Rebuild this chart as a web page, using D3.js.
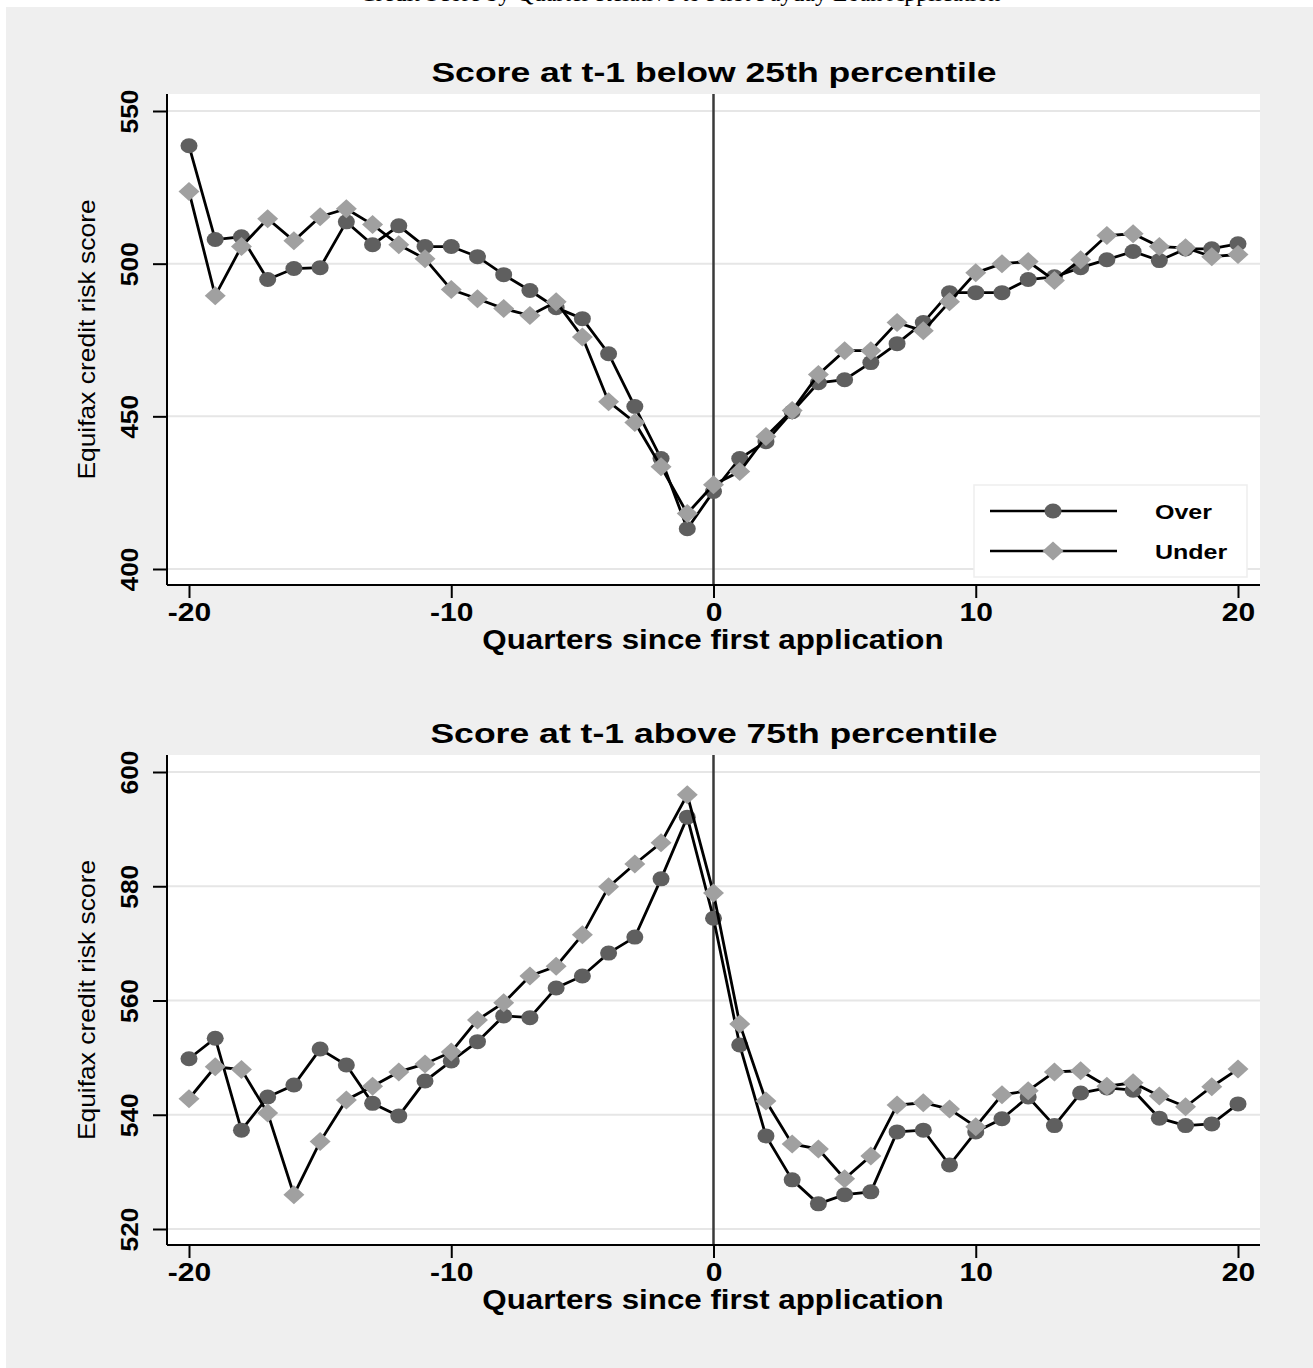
<!DOCTYPE html>
<html>
<head>
<meta charset="utf-8">
<script src="https://cdn.jsdelivr.net/npm/d3@7"></script>
<style>
  body { margin: 0; background: #ffffff; }
  svg { display: block; }
</style>
</head>
<body>
<div id="chart"></div>
<script>
// data
const quarters = d3.range(-20, 21);

const overLow = [538.6, 507.9, 508.8, 494.8, 498.4, 498.7, 513.7, 506.2, 512.4, 505.6,
  505.6, 502.3, 496.4, 491.2, 485.6, 482.0, 470.5, 453.2, 436.2, 413.2,
  425.4, 436.2, 441.7, 451.5, 461.0, 462.0, 467.6, 473.8, 480.7, 490.5,
  490.5, 490.5, 494.8, 495.7, 498.7, 501.3, 504.0, 501.0, 504.8, 504.9, 506.5];
const underLow = [523.6, 489.5, 505.6, 514.7, 507.5, 515.4, 518.0, 512.8, 506.2, 501.6,
  491.5, 488.5, 485.3, 483.0, 487.5, 476.0, 454.8, 448.0, 433.5, 418.2,
  427.6, 431.9, 443.4, 451.9, 463.7, 471.5, 471.5, 480.7, 478.0, 487.5,
  497.0, 500.0, 500.7, 494.5, 501.3, 509.2, 509.8, 505.6, 505.2, 502.3, 503.0];

const overHigh = [549.8, 553.4, 537.3, 543.1, 545.2, 551.5, 548.7, 542.0, 539.8, 545.9,
  549.4, 552.8, 557.3, 557.0, 562.2, 564.3, 568.3, 571.1, 581.3, 592.1,
  574.4, 552.2, 536.3, 528.6, 524.4, 526.0, 526.5, 537.0, 537.3, 531.2,
  537.0, 539.3, 543.1, 538.1, 543.8, 544.7, 544.3, 539.4, 538.1, 538.4, 541.9];
const underHigh = [542.8, 548.4, 547.9, 540.3, 526.0, 535.3, 542.6, 545.0, 547.5, 548.9,
  551.0, 556.6, 559.6, 564.3, 566.0, 571.5, 579.9, 583.9, 587.6, 596.0,
  578.8, 555.9, 542.4, 534.9, 534.0, 528.8, 532.8, 541.7, 542.1, 541.0,
  537.9, 543.5, 544.2, 547.5, 547.7, 545.0, 545.6, 543.3, 541.4, 544.9, 548.0];

const xTicks = [-20, -10, 0, 10, 20];
const yTicksLow = [400, 450, 500, 550];
const yTicksHigh = [520, 540, 560, 580, 600];
const seriesNames = ["Over", "Under"];

const W = 1313, H = 1368;
const svg = d3.select("#chart").append("svg")
    .attr("width", W)
    .attr("height", H);

// the stata export looks horizontally stretched, so widen the texts
const stretch = (sel, k) => {
  sel.each(function() {
    const len = this.getComputedTextLength();
    d3.select(this).attr("textLength", len * k).attr("lengthAdjust", "spacingAndGlyphs");
  });
};

// caption of the page, cut off at the top edge
svg.append("text")
    .attr("x", 680)
    .attr("y", 1)
    .attr("text-anchor", "middle")
    .style("font-family", "'Liberation Serif', 'DejaVu Serif', serif")
    .style("font-size", "24px")
    .text("Credit Score by Quarter Relative to First Payday Loan Application");

// graph region
svg.append("rect")
    .attr("x", 6).attr("y", 7)
    .attr("width", W - 6).attr("height", H - 7)
    .attr("fill", "#efefef");

const font = "'Liberation Sans', Arial, sans-serif";
const overColor = "#5f5f5f", underColor = "#a0a0a0";

function diamond(cx, cy) {
  const a = 10.5, b = 9.5;
  return `M${cx},${cy - b}L${cx + a},${cy}L${cx},${cy + b}L${cx - a},${cy}Z`;
}

function panel(opt) {
  const left = 167, right = 1260;
  const x = d3.scaleLinear().domain([-20, 20]).range([189, 1238]);
  const y = d3.scaleLinear().domain(opt.yDomain).range(opt.yRange);

  const g = svg.append("g");

  // plot area
  g.append("rect")
      .attr("x", left).attr("y", opt.top)
      .attr("width", right - left).attr("height", opt.bottom - opt.top)
      .attr("fill", "#ffffff");

  // grid lines
  g.selectAll(".grid")
      .data(opt.yTicks)
      .enter().append("line")
      .attr("x1", left).attr("x2", right)
      .attr("y1", d => y(d)).attr("y2", d => y(d))
      .attr("stroke", "#e6e6e6")
      .attr("stroke-width", 2);

  // line at quarter 0
  g.append("line")
      .attr("x1", x(0)).attr("x2", x(0))
      .attr("y1", opt.top).attr("y2", opt.bottom)
      .attr("stroke", "#3a3a3a")
      .attr("stroke-width", 2.5);

  // title
  g.append("text")
      .attr("x", 714).attr("y", opt.top - 12)
      .attr("text-anchor", "middle")
      .style("font-family", font)
      .style("font-weight", "bold")
      .style("font-size", "28px")
      .text(opt.title)
      .call(stretch, 1.27);

  // y axis
  const yAxis = g.append("g")
      .attr("transform", "translate(" + left + ",0)")
      .call(d3.axisLeft(y).tickValues(opt.yTicks).tickFormat(d => String(d))
        .tickSize(14).tickSizeOuter(0).tickPadding(0));
  yAxis.select(".domain").remove();
  yAxis.append("line")
      .attr("x1", 0).attr("x2", 0)
      .attr("y1", opt.top).attr("y2", opt.bottom)
      .attr("stroke", "#000").attr("stroke-width", 2);
  yAxis.selectAll(".tick line").attr("stroke", "#000").attr("stroke-width", 2);
  yAxis.selectAll(".tick text")
      .attr("x", 0).attr("dy", 0)
      .attr("transform", "translate(-29,0) rotate(-90)")
      .attr("text-anchor", "middle")
      .style("font-family", font)
      .style("font-weight", "bold")
      .style("font-size", "24px")
      .attr("fill", "#000")
      .call(stretch, 1.1);

  // x axis
  const xAxis = g.append("g")
      .attr("transform", "translate(0," + opt.bottom + ")")
      .call(d3.axisBottom(x).tickValues(xTicks).tickFormat(d => String(d))
        .tickSize(13).tickSizeOuter(0).tickPadding(4));
  xAxis.select(".domain").remove();
  xAxis.append("line")
      .attr("x1", left).attr("x2", right)
      .attr("y1", 0).attr("y2", 0)
      .attr("stroke", "#000").attr("stroke-width", 2);
  xAxis.selectAll(".tick line").attr("stroke", "#000").attr("stroke-width", 2);
  xAxis.selectAll(".tick text")
      .attr("dy", "0.75em")
      .style("font-family", font)
      .style("font-weight", "bold")
      .style("font-size", "25px")
      .attr("fill", "#000")
      .call(stretch, 1.2);

  // axis titles
  g.append("text")
      .attr("x", 713).attr("y", opt.bottom + 64)
      .attr("text-anchor", "middle")
      .style("font-family", font)
      .style("font-weight", "bold")
      .style("font-size", "27px")
      .text("Quarters since first application")
      .call(stretch, 1.16);

  g.append("text")
      .attr("transform", "translate(95," + ((opt.top + opt.bottom) / 2) + ") rotate(-90)")
      .attr("text-anchor", "middle")
      .style("font-family", font)
      .style("font-size", "24px")
      .text("Equifax credit risk score")
      .call(stretch, 1.1);

  // series
  const line = d3.line().x((d, i) => x(quarters[i])).y(d => y(d));

  g.append("path").datum(opt.over)
      .attr("d", line).attr("fill", "none")
      .attr("stroke", "#000").attr("stroke-width", 2.8);
  g.selectAll(".over")
      .data(opt.over)
      .enter().append("ellipse")
      .attr("cx", (d, i) => x(quarters[i]))
      .attr("cy", d => y(d))
      .attr("rx", 8.5).attr("ry", 7.5)
      .attr("fill", overColor);

  g.append("path").datum(opt.under)
      .attr("d", line).attr("fill", "none")
      .attr("stroke", "#000").attr("stroke-width", 2.8);
  g.selectAll(".under")
      .data(opt.under)
      .enter().append("path")
      .attr("d", (d, i) => diamond(x(quarters[i]), y(d)))
      .attr("fill", underColor);

  return g;
}

const topPanel = panel({
  title: "Score at t-1 below 25th percentile",
  top: 94, bottom: 585,
  yDomain: [400, 550], yRange: [569, 111],
  yTicks: yTicksLow,
  over: overLow, under: underLow
});

panel({
  title: "Score at t-1 above 75th percentile",
  top: 755, bottom: 1245,
  yDomain: [520, 600], yRange: [1229, 772],
  yTicks: yTicksHigh,
  over: overHigh, under: underHigh
});

// legend
const leg = topPanel.append("g");
leg.append("rect")
    .attr("x", 974).attr("y", 485)
    .attr("width", 273).attr("height", 92)
    .attr("fill", "#ffffff")
    .attr("stroke", "#eeeeee")
    .attr("stroke-width", 1.5);

seriesNames.forEach((name, i) => {
  const cy = 511 + i * 40;
  leg.append("line")
      .attr("x1", 990).attr("x2", 1117)
      .attr("y1", cy).attr("y2", cy)
      .attr("stroke", "#000").attr("stroke-width", 2.4);
  if (i === 0) {
    leg.append("ellipse")
        .attr("cx", 1053).attr("cy", cy)
        .attr("rx", 8.5).attr("ry", 7.5)
        .attr("fill", overColor);
  } else {
    leg.append("path")
        .attr("d", diamond(1053, cy))
        .attr("fill", underColor);
  }
  leg.append("text")
      .attr("x", 1155).attr("y", cy + 8)
      .style("font-family", font)
      .style("font-weight", "bold")
      .style("font-size", "21px")
      .text(name)
      .call(stretch, 1.19);
});
</script>
</body>
</html>
